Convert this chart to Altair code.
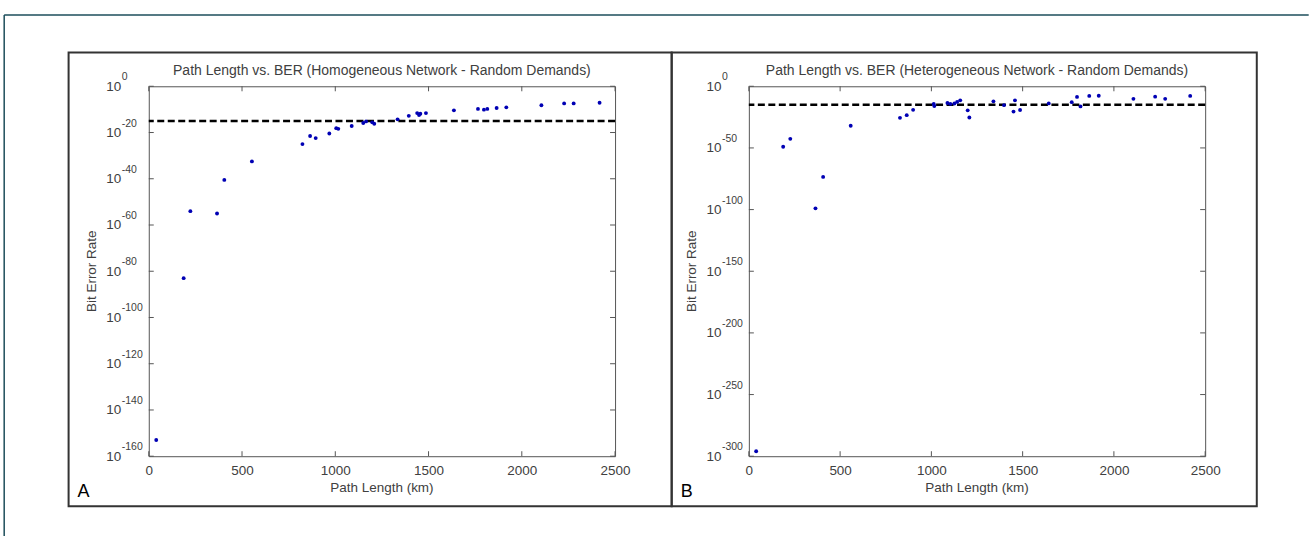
import altair as alt
import pandas as pd

# ---------------- data ----------------
a_km = [40, 187, 223, 366, 405, 553, 824, 865, 895, 968, 1005, 1016, 1088, 1150, 1165,
        1198, 1209, 1334, 1394, 1439, 1449, 1456, 1486, 1636, 1765, 1797, 1815, 1865,
        1917, 2105, 2227, 2278, 2417]
a_exp = [-153, -83, -54, -55, -40.5, -32.5, -25, -21.5, -22.4, -20.4, -18.1, -18.4, -17.2,
         -15.9, -15.2, -15.6, -16.2, -14.3, -12.8, -11.6, -12.4, -11.9, -11.6, -10.4, -9.8,
         -10.1, -9.8, -9.4, -9.1, -8.2, -7.4, -7.4, -7.1]

b_km = [40, 188, 227, 365, 407, 558, 828, 865, 900, 1013, 1016, 1088, 1104, 1126, 1141,
        1158, 1199, 1208, 1340, 1398, 1450, 1458, 1486, 1643, 1769, 1798, 1817, 1865, 1917,
        2107, 2226, 2281, 2418]
b_exp = [-296, -49, -42.6, -99, -73.5, -32, -25.6, -23.4, -19.1, -14.3, -16.0, -13.6, -14.3,
         -14.0, -12.7, -11.4, -19.5, -25.3, -12.2, -15.3, -20.5, -11.4, -19.2, -13.9, -12.9,
         -8.6, -16.3, -7.8, -7.7, -10.2, -8.4, -10.2, -7.8]

threshold_exp = [-15]

x_ticks = [0, 500, 1000, 1500, 2000, 2500]
a_yticks = [0, -20, -40, -60, -80, -100, -120, -140, -160]
b_yticks = [0, -50, -100, -150, -200, -250, -300]

title_a = "Path Length vs. BER (Homogeneous Network - Random Demands)"
title_b = "Path Length vs. BER (Heterogeneous Network - Random Demands)"
x_title = "Path Length (km)"
y_title = "Bit Error Rate"

FONT = "Liberation Sans"
TXT = "#404040"
AXC = "#555555"


def panel(km, exp, yticks, ymin, W, H, left, title, letter, first):
    xs = alt.Scale(domain=[0, 2500], nice=False, zero=False)
    ys = alt.Scale(domain=[ymin, 0], nice=False, zero=False)
    ax_x = alt.Axis(values=x_ticks, ticks=False, domain=False, grid=False, title=None,
                    labelFont=FONT, labelFontSize=13.5, labelColor=TXT, labelPadding=7,
                    labelFlush=False, format="d")
    ax_y = alt.Axis(values=yticks, ticks=False, domain=False, grid=False, title=None,
                    labelFont=FONT, labelFontSize=13.5, labelColor=TXT, labelPadding=28,
                    labelExpr="'10'", labelOverlap=False, labelBaseline="middle")

    top = 85.5
    layers = []

    if first:
        # full-page extent (transparent) so the page origin is fixed
        layers.append(alt.Chart(pd.DataFrame({"k": [0]})).mark_rect(opacity=0).encode(
            x=alt.value(-left), x2=alt.value(1310 - left),
            y=alt.value(-top), y2=alt.value(536 - top)))
        # teal outer frame
        teal = "#1d4e5b"
        layers.append(alt.Chart(pd.DataFrame({"k": [0]})).mark_rule(color=teal, strokeWidth=1.5).encode(
            x=alt.value(3.5 - left), x2=alt.value(1310 - left),
            y=alt.value(14 - top)))
        layers.append(alt.Chart(pd.DataFrame({"k": [0]})).mark_rule(color=teal, strokeWidth=1.5).encode(
            x=alt.value(3.5 - left), y=alt.value(14 - top), y2=alt.value(536 - top)))
        box_l, box_r = 68, 672
    else:
        box_l, box_r = 672, 1258

    # panel box
    layers.append(alt.Chart(pd.DataFrame({"k": [0]})).mark_rect(
        filled=False, stroke="#333333", strokeWidth=2).encode(
        x=alt.value(box_l - left), x2=alt.value(box_r - left),
        y=alt.value(51.7 - top), y2=alt.value(506 - top)))

    tdf = pd.DataFrame({"v": x_ticks})
    ydf = pd.DataFrame({"v": yticks, "lab": [str(v) for v in yticks]})

    # inward ticks
    layers.append(alt.Chart(tdf).mark_rule(color=AXC, strokeWidth=1).encode(
        x=alt.X("v:Q", scale=xs, axis=ax_x), y=alt.value(H), y2=alt.value(H - 5)))
    layers.append(alt.Chart(tdf).mark_rule(color=AXC, strokeWidth=1).encode(
        x=alt.X("v:Q", scale=xs, axis=ax_x), y=alt.value(0), y2=alt.value(5)))
    layers.append(alt.Chart(ydf).mark_rule(color=AXC, strokeWidth=1).encode(
        y=alt.Y("v:Q", scale=ys, axis=ax_y), x=alt.value(0), x2=alt.value(5)))
    layers.append(alt.Chart(ydf).mark_rule(color=AXC, strokeWidth=1).encode(
        y=alt.Y("v:Q", scale=ys, axis=ax_y), x=alt.value(W - 5), x2=alt.value(W)))

    # exponent of tick labels
    layers.append(alt.Chart(ydf).mark_text(
        align="left", baseline="middle", dy=-9, font=FONT, fontSize=10.5, color=TXT).encode(
        y=alt.Y("v:Q", scale=ys, axis=ax_y), x=alt.value(-27), text="lab:N"))

    # threshold line
    layers.append(alt.Chart(pd.DataFrame({"thr": threshold_exp})).mark_rule(
        color="black", strokeWidth=2.5, strokeDash=[7, 3.5]).encode(
        y=alt.Y("thr:Q", scale=ys, axis=ax_y)))

    # data points
    layers.append(alt.Chart(pd.DataFrame({"km": km, "exp": exp})).mark_circle(
        size=15, color="#0000b4", opacity=1).encode(
        x=alt.X("km:Q", scale=xs, axis=ax_x),
        y=alt.Y("exp:Q", scale=ys, axis=ax_y)))

    # texts
    def txt(s, x, y, size, color, angle=0, align="center"):
        return alt.Chart(pd.DataFrame({"t": [s]})).mark_text(
            font=FONT, fontSize=size, color=color, angle=angle, align=align,
            baseline="middle").encode(text="t:N", x=alt.value(x), y=alt.value(y))

    layers.append(txt(title, W / 2, -15.5, 14, TXT))
    layers.append(txt(x_title, W / 2, H + 31.5, 13.5, TXT))
    layers.append(txt(y_title, -57, H / 2, 13.5, TXT, angle=270))
    layers.append(txt(letter, (box_l + 9) - left, 492 - top, 18, "black", align="left"))

    return alt.layer(*layers).properties(width=W, height=H)


A = panel(a_km, a_exp, a_yticks, -160, 467, 370.5, 148.3, title_a, "A", True)
B = panel(b_km, b_exp, b_yticks, -300, 457, 370.5, 749.3, title_b, "B", False)

chart = alt.HConcatChart(hconcat=[A, B], spacing=134, bounds="flush").properties(
    padding=0, background="white"
).configure_view(stroke=AXC, strokeWidth=1)

chart.save("out.html", embed_options={"renderer": "svg", "actions": False})
